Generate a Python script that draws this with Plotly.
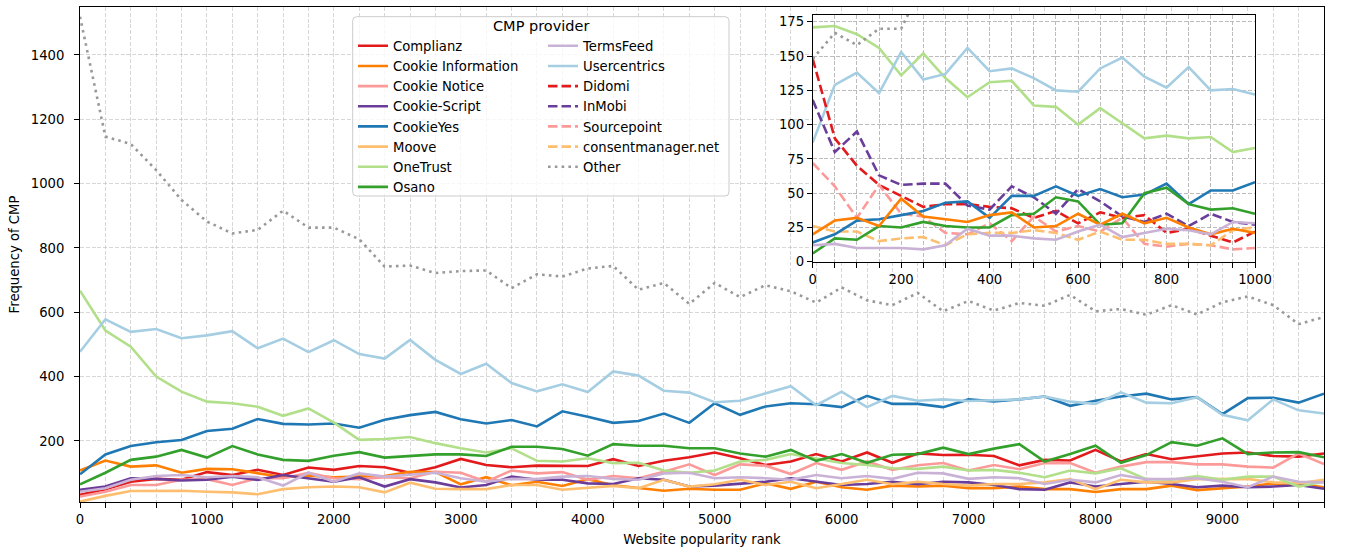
import plotly.graph_objects as go

# ---------------- data ----------------
rank = [0, 200, 400, 600, 800, 1000, 1200, 1400, 1600, 1800, 2000, 2200, 2400, 2600, 2800,
        3000, 3200, 3400, 3600, 3800, 4000, 4200, 4400, 4600, 4800, 5000, 5200, 5400, 5600,
        5800, 6000, 6200, 6400, 6600, 6800, 7000, 7200, 7400, 7600, 7800, 8000, 8200, 8400,
        8600, 8800, 9000, 9200, 9400, 9600, 9800]

complianz = [32, 50, 73, 82, 79, 103, 94, 110, 94, 117, 110, 122, 118, 101, 118,
             144, 125, 118, 123, 122, 122, 143, 122, 138, 149, 164, 146, 125, 136, 159, 136, 164,
             132, 161, 156, 157, 153, 124, 141, 139, 172, 136, 159, 143, 151, 161, 164, 153, 151, 161]
cookie_information = [108, 139, 120, 124, 101, 113, 112, 99, 87, 92, 87, 89, 91, 104, 103,
                      65, 87, 62, 73, 60, 81, 62, 53, 45, 51, 48, 48, 68, 51, 73, 56, 48,
                      61, 58, 61, 53, 53, 58, 50, 50, 41, 50, 50, 61, 47, 53, 58, 68, 66, 56]
cookie_notice = [27, 42, 63, 63, 79, 81, 63, 84, 84, 101, 84, 81, 87, 84, 104,
                 101, 73, 108, 99, 103, 79, 91, 84, 104, 127, 94, 127, 123, 97, 131, 110, 136,
                 110, 124, 131, 108, 125, 112, 131, 131, 101, 120, 134, 134, 127, 127, 120, 117, 161, 128]
cookie_script = [48, 58, 84, 82, 77, 79, 89, 79, 94, 84, 73, 87, 58, 81, 71,
                 55, 63, 89, 79, 79, 68, 66, 84, 79, 58, 61, 68, 73, 84, 73, 63, 66,
                 73, 65, 73, 71, 63, 50, 48, 71, 58, 66, 73, 66, 56, 61, 56, 58, 63, 51]
cookieyes = [96, 158, 184, 196, 203, 231, 238, 268, 253, 251, 254, 241, 266, 280, 290,
             267, 254, 265, 245, 292, 275, 256, 262, 285, 256, 317, 281, 307, 317, 314, 305, 340,
             315, 315, 305, 329, 323, 329, 338, 309, 325, 338, 347, 329, 336, 283, 333, 334, 319, 347]
moove = [11, 29, 44, 45, 45, 42, 40, 34, 50, 56, 58, 56, 40, 70, 51,
         50, 50, 63, 63, 48, 53, 60, 53, 79, 58, 65, 79, 63, 73, 53, 66, 79,
         65, 73, 66, 61, 66, 66, 71, 81, 50, 79, 71, 71, 81, 81, 82, 71, 68, 79]
onetrust = [667, 543, 493, 400, 353, 322, 317, 306, 278, 301, 257, 203, 206, 212, 193,
            177, 164, 177, 138, 136, 146, 131, 132, 108, 101, 108, 136, 141, 159, 146, 131, 125,
            115, 113, 120, 108, 110, 101, 87, 108, 99, 115, 81, 79, 91, 79, 89, 89, 58, 73]
osano = [65, 101, 141, 151, 172, 148, 184, 158, 141, 138, 154, 165, 148, 153, 158,
         158, 153, 182, 182, 175, 154, 190, 185, 185, 177, 177, 161, 151, 172, 138, 159, 132,
         157, 159, 179, 159, 176, 190, 136, 159, 185, 132, 156, 196, 185, 208, 159, 164, 165, 149]
termsfeed = [42, 53, 79, 91, 94, 87, 91, 87, 61, 101, 73, 99, 89, 94, 101,
             84, 73, 82, 81, 89, 91, 82, 79, 99, 101, 84, 87, 84, 79, 94, 84, 91,
             82, 101, 99, 82, 87, 84, 66, 79, 71, 94, 81, 81, 84, 73, 56, 89, 73, 71]
usercentrics = [477, 578, 539, 548, 519, 528, 541, 488, 518, 476, 513, 470, 456, 514, 452,
                408, 440, 380, 354, 376, 352, 416, 403, 356, 350, 320, 325, 348, 370, 311, 353, 305,
                340, 325, 329, 324, 327, 329, 338, 322, 315, 351, 319, 317, 336, 281, 264, 329, 295, 285]
other = [1519, 1146, 1123, 1042, 949, 882, 845, 856, 916, 863, 863, 827, 742, 745, 722,
         728, 730, 675, 718, 711, 736, 744, 670, 691, 626, 691, 647, 684, 665, 630, 677, 637,
         622, 660, 603, 635, 605, 629, 620, 654, 603, 610, 592, 622, 593, 631, 649, 622, 563, 585]

# inset: top 1000 ranks
rank_top = [0, 50, 100, 150, 200, 250, 300, 350, 400, 450, 500, 550, 600, 650, 700,
            750, 800, 850, 900, 950, 1000]
onetrust_top = [171, 172, 166, 156, 136, 152, 134, 120, 131, 132, 114, 113, 100, 112, 101, 90, 92, 90, 91, 80, 83]
usercentrics_top = [87, 129, 138, 123, 153, 133, 137, 156, 139, 141, 134, 125, 124, 141, 149, 135, 127, 142, 125, 126, 122]
cookieyes_top = [14, 20, 30, 31, 34, 37, 43, 44, 32, 48, 48, 55, 48, 53, 47, 49, 57, 42, 52, 52, 58]
osano_top = [6, 17, 16, 26, 25, 29, 26, 25, 25, 34, 35, 47, 44, 27, 28, 50, 54, 42, 38, 39, 35]
cookie_information_top = [20, 30, 32, 26, 46, 33, 31, 29, 34, 36, 25, 26, 35, 27, 35, 28, 32, 25, 20, 24, 21]
termsfeed_top = [12, 13, 10, 10, 10, 9, 12, 24, 19, 19, 17, 16, 22, 27, 18, 21, 24, 23, 20, 29, 28]
didomi_top = [148, 90, 70, 56, 48, 40, 42, 42, 40, 39, 32, 37, 28, 36, 32, 34, 21, 24, 19, 14, 22]
inmobi_top = [118, 80, 95, 63, 56, 57, 57, 41, 38, 55, 47, 35, 53, 44, 33, 29, 35, 26, 35, 29, 27]
sourcepoint_top = [72, 55, 32, 56, 35, 33, 21, 20, 28, 15, 33, 22, 26, 22, 32, 13, 11, 13, 12, 9, 10]
consentmanager_top = [26, 22, 22, 15, 17, 18, 12, 20, 21, 21, 23, 21, 16, 22, 16, 16, 13, 13, 12, 23, 25]
rank_top_other = [0, 50, 100, 150, 200, 250]
other_top = [148, 167, 158, 170, 170, 203]

# ---------------- styles ----------------
COL = {
    "Complianz": "#e31a1c", "Cookie Information": "#ff7f00", "Cookie Notice": "#fb9a99",
    "Cookie-Script": "#6a3d9a", "CookieYes": "#1f78b4", "Moove": "#fdbf6f",
    "OneTrust": "#b2df8a", "Osano": "#33a02c", "TermsFeed": "#cab2d6",
    "Usercentrics": "#a6cee3", "Didomi": "#e31a1c", "InMobi": "#6a3d9a",
    "Sourcepoint": "#fb9a99", "consentmanager.net": "#fdbf6f", "Other": "#999999",
}
ORDER = ["Complianz", "Cookie Information", "Cookie Notice", "Cookie-Script", "CookieYes",
         "Moove", "OneTrust", "Osano", "TermsFeed", "Usercentrics", "Didomi", "InMobi",
         "Sourcepoint", "consentmanager.net", "Other"]
LW = 2.6
DASH = "9.5px,4px"
DOT = "2.6px,4.2px"


def legend_of(name):
    return "legend" if ORDER.index(name) < 8 else "legend2"


def style(name):
    if name == "Other":
        return DOT
    if name in ("Didomi", "InMobi", "Sourcepoint", "consentmanager.net"):
        return DASH
    return "solid"


fig = go.Figure()

main_series = [("Complianz", complianz), ("Cookie Information", cookie_information),
               ("Cookie Notice", cookie_notice), ("Cookie-Script", cookie_script),
               ("CookieYes", cookieyes), ("Moove", moove), ("OneTrust", onetrust),
               ("Osano", osano), ("TermsFeed", termsfeed), ("Usercentrics", usercentrics),
               ("Other", other)]
for name, vals in main_series:
    fig.add_trace(go.Scatter(
        x=rank, y=vals, mode="lines", name=name,
        line=dict(color=COL[name], width=LW, dash=style(name)),
        legend=legend_of(name), legendrank=ORDER.index(name) + 1,
        xaxis="x", yaxis="y"))

inset_series = [("OneTrust", rank_top, onetrust_top), ("Usercentrics", rank_top, usercentrics_top),
                ("Didomi", rank_top, didomi_top), ("InMobi", rank_top, inmobi_top),
                ("Sourcepoint", rank_top, sourcepoint_top),
                ("consentmanager.net", rank_top, consentmanager_top),
                ("CookieYes", rank_top, cookieyes_top), ("Osano", rank_top, osano_top),
                ("Cookie Information", rank_top, cookie_information_top),
                ("TermsFeed", rank_top, termsfeed_top), ("Other", rank_top_other, other_top)]
inset_only = {"Didomi", "InMobi", "Sourcepoint", "consentmanager.net"}
for name, xs, vals in inset_series:
    fig.add_trace(go.Scatter(
        x=xs, y=vals, mode="lines", name=name,
        line=dict(color=COL[name], width=LW, dash=style(name)),
        showlegend=name in inset_only,
        legend=legend_of(name), legendrank=ORDER.index(name) + 1,
        xaxis="x2", yaxis="y2"))

# ---------------- layout ----------------
W, H = 1348, 550
ML, MR, MT, MB = 80, 24, 7, 48
PW, PH = W - ML - MR, H - MT - MB


def px_x(px):
    return (px - ML) / PW


def px_y(py):
    return (H - MB - py) / PH


FONT = dict(family="DejaVu Sans", size=13.2, color="black")
TITLE_FONT = dict(family="DejaVu Sans", size=14.5, color="black")
grid_main = "rgba(176,176,176,0.5)"
grid_in = "rgba(176,176,176,0.85)"
gdash = "4px,1.8px"

axis_common = dict(showline=True, mirror=True, linecolor="black", linewidth=1,
                   ticks="outside", ticklen=5, tickcolor="black", tickwidth=1,
                   zeroline=False, tickfont=FONT, griddash=gdash, gridwidth=1,
                   automargin=False, tickformat="d")

fig.update_layout(
    width=W, height=H,
    margin=dict(l=ML, r=MR, t=MT, b=MB, autoexpand=False),
    paper_bgcolor="white", plot_bgcolor="white",
    font=FONT,
    xaxis=dict(domain=[0, 1], range=[0, 9800], tick0=0, dtick=1000, anchor="y",
               showgrid=True, gridcolor=grid_main,
               minor=dict(dtick=200, tick0=0, showgrid=True, gridcolor=grid_main, griddash=gdash,
                          ticks="outside", ticklen=5, tickcolor="black"),
               title=dict(text="Website popularity rank", font=FONT, standoff=8),
               **axis_common),
    yaxis=dict(domain=[0, 1], range=[10, 1549], tick0=0, dtick=200, anchor="x",
               showgrid=True, gridcolor=grid_main, ticklabelstandoff=7,
               title=dict(text="Frequency of CMP", font=FONT, standoff=8),
               **axis_common),
    xaxis2=dict(domain=[px_x(812.7), px_x(1255)], range=[0, 1000], tick0=0, dtick=200, anchor="y2",
                showgrid=True, gridcolor=grid_in,
                minor=dict(dtick=50, tick0=0, showgrid=True, gridcolor=grid_in, griddash=gdash,
                           ticks="outside", ticklen=5, tickcolor="black"),
                **axis_common),
    yaxis2=dict(domain=[px_y(261.7), px_y(15)], range=[0, 180], tick0=0, dtick=25, anchor="x2",
                showgrid=True, gridcolor=grid_in,
                **axis_common),
    legend=dict(x=px_x(353), y=px_y(30.7), xanchor="left", yanchor="top",
                bgcolor="rgba(0,0,0,0)", borderwidth=0, font=FONT, traceorder="normal"),
    legend2=dict(x=px_x(543), y=px_y(30.7), xanchor="left", yanchor="top",
                 bgcolor="rgba(0,0,0,0)", borderwidth=0, font=FONT, traceorder="normal"),
)

# legend frame (rounded) + title
x0, x1, y0, y1 = px_x(352.7), px_x(729), px_y(196), px_y(16.7)
rx, ry = 4 / PW, 4 / PH
path = (f"M{x0+rx},{y0} L{x1-rx},{y0} Q{x1},{y0} {x1},{y0+ry} L{x1},{y1-ry} "
        f"Q{x1},{y1} {x1-rx},{y1} L{x0+rx},{y1} Q{x0},{y1} {x0},{y1-ry} "
        f"L{x0},{y0+ry} Q{x0},{y0} {x0+rx},{y0} Z")
fig.add_shape(type="path", path=path, xref="paper", yref="paper",
              fillcolor="rgba(255,255,255,0.8)", line=dict(color="#cccccc", width=1), layer="above")
fig.add_annotation(text="CMP provider", x=px_x(540.7), y=px_y(26), xref="paper", yref="paper",
                   xanchor="center", yanchor="middle", showarrow=False, font=TITLE_FONT)

fig.write_html("out.html", config={"displayModeBar": False},
               post_script="document.body.style.margin='0';document.body.style.overflow='hidden';")
